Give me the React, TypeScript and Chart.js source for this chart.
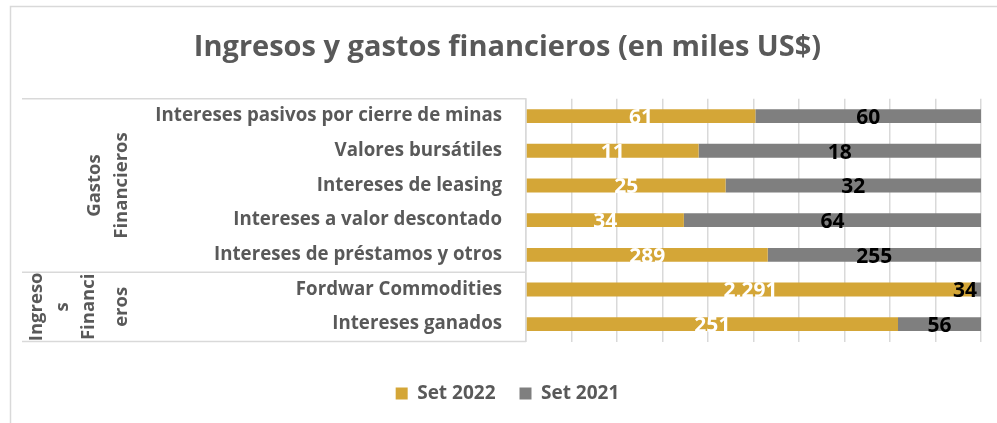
import React, { useEffect, useRef } from "react";
import { Chart, registerables } from "chart.js";

Chart.register(...registerables);

const categories = [
  "Intereses pasivos por cierre de minas",
  "Valores bursátiles",
  "Intereses de leasing",
  "Intereses a valor descontado",
  "Intereses de préstamos y otros",
  "Fordwar Commodities",
  "Intereses ganados",
];
const set2022 = [61, 11, 25, 34, 289, 2291, 251];
const set2021 = [60, 18, 32, 64, 255, 34, 56];
const seriesNames = ["Set 2022", "Set 2021"];
const groupNames = [
  ["Gastos", "Financieros"],
  ["Ingreso", "s", "Financi", "eros"],
];
const groupRanges = [
  [0, 4],
  [5, 6],
];
const titleText = "Ingresos y gastos financieros (en miles US$)";

const GOLD = "#D4A637";
const GRAY = "#7F7F7F";
const TEXT = "#595959";
const LINE = "#D9D9D9";
const FONT = "'Open Sans', sans-serif";

const totals = categories.map((_, i) => set2022[i] + set2021[i]);
const share = (arr: number[]) => arr.map((v, i) => (v / totals[i]) * 100);
const fmt = (v: number) => String(v).replace(/\B(?=(\d{3})+(?!\d))/g, ",");

const groupLineX = [
  [95, 122],
  [37, 62.5, 88.5, 121.5],
];

const framePlugin = {
  id: "frame",
  beforeDraw(chart: any) {
    const ctx = chart.ctx;
    ctx.save();
    ctx.strokeStyle = LINE;
    ctx.lineWidth = 1.5;
    ctx.beginPath();
    ctx.moveTo(10.5, 423);
    ctx.lineTo(10.5, 6.5);
    ctx.lineTo(997, 6.5);
    ctx.stroke();
    ctx.restore();
  },
};

const groupPlugin = {
  id: "groups",
  afterDraw(chart: any) {
    const ctx = chart.ctx;
    const y = chart.scales.y;
    const { top, bottom, left } = chart.chartArea;
    ctx.save();
    ctx.strokeStyle = LINE;
    ctx.lineWidth = 1.5;
    const sep = (y.getPixelForValue(groupRanges[0][1]) + y.getPixelForValue(groupRanges[1][0])) / 2;
    [top, sep, bottom].forEach((yy) => {
      ctx.beginPath();
      ctx.moveTo(22, yy);
      ctx.lineTo(left, yy);
      ctx.stroke();
    });
    ctx.fillStyle = TEXT;
    ctx.font = `bold 18.5px ${FONT}`;
    ctx.textAlign = "center";
    ctx.textBaseline = "middle";
    groupNames.forEach((lines, gi) => {
      const p0 = gi === 0 ? top : sep;
      const p1 = gi === 0 ? sep : bottom;
      const cy = (p0 + p1) / 2;
      lines.forEach((t, li) => {
        ctx.save();
        ctx.translate(groupLineX[gi][li], cy);
        ctx.rotate(-Math.PI / 2);
        ctx.fillText(t, 0, 0);
        ctx.restore();
      });
    });
    ctx.restore();
  },
};

const labelPlugin = {
  id: "valueLabels",
  afterDatasetsDraw(chart: any) {
    const ctx = chart.ctx;
    const raws = [set2022, set2021];
    ctx.save();
    ctx.font = `bold 21px ${FONT}`;
    ctx.textAlign = "center";
    ctx.textBaseline = "middle";
    chart.data.datasets.forEach((_: any, di: number) => {
      const meta = chart.getDatasetMeta(di);
      meta.data.forEach((bar: any, i: number) => {
        const { x, base, y } = bar.getProps(["x", "base", "y"], true);
        const text = fmt(raws[di][i]);
        const w = ctx.measureText(text).width;
        let cx = (x + base) / 2;
        const maxR = chart.chartArea.right - 4;
        if (cx + w / 2 > maxR) cx = maxR - w / 2;
        ctx.fillStyle = di === 0 ? "#FFFFFF" : "#000000";
        ctx.fillText(text, cx, y + 2);
      });
    });
    ctx.restore();
  },
};

export default function App() {
  const ref = useRef<HTMLCanvasElement | null>(null);
  useEffect(() => {
    if (!ref.current) return;
    const chart = new Chart(ref.current, {
      type: "bar",
      data: {
        labels: categories,
        datasets: [
          {
            label: seriesNames[0],
            data: share(set2022),
            backgroundColor: GOLD,
            barPercentage: 0.4,
            categoryPercentage: 1,
          },
          {
            label: seriesNames[1],
            data: share(set2021),
            backgroundColor: GRAY,
            barPercentage: 0.4,
            categoryPercentage: 1,
          },
        ],
      },
      options: {
        indexAxis: "y",
        responsive: false,
        animation: false,
        layout: { padding: { left: 34, right: 16, top: 0, bottom: 10 } },
        plugins: {
          title: {
            display: true,
            text: titleText,
            color: TEXT,
            font: { family: FONT, size: 29, weight: "bold" },
            padding: { top: 30, bottom: 34 },
          },
          legend: {
            position: "bottom",
            labels: {
              boxWidth: 12,
              boxHeight: 12,
              color: TEXT,
              font: { family: FONT, size: 19, weight: "bold" },
              padding: 24,
            },
          },
          tooltip: { enabled: false },
        },
        scales: {
          x: {
            stacked: true,
            min: 0,
            max: 100,
            ticks: { display: false, stepSize: 10 },
            grid: { color: LINE, lineWidth: 1.5, drawTicks: false },
            border: { display: false },
            afterFit: (s: any) => {
              s.height = 18.5;
            },
          },
          y: {
            stacked: true,
            ticks: {
              color: TEXT,
              font: { family: FONT, size: 18.7, weight: "bold" },
              padding: 24,
            },
            grid: { display: false, drawTicks: false },
            border: { display: true, color: LINE, width: 1.5 },
            afterFit: (s: any) => {
              s.width = 492;
            },
          },
        },
      },
      plugins: [framePlugin, groupPlugin, labelPlugin],
    } as any);
    return () => chart.destroy();
  }, []);
  return (
    <canvas
      ref={ref}
      width={997}
      height={423}
      style={{ position: "absolute", left: 0, top: 0, display: "block" }}
    />
  );
}
